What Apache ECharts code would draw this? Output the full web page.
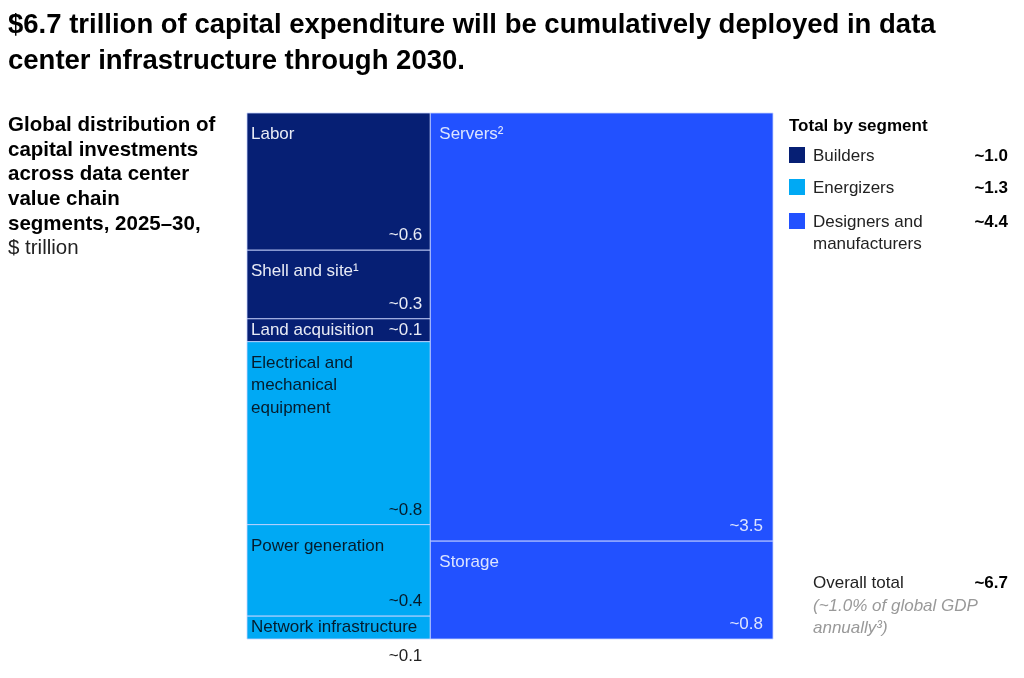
<!DOCTYPE html>
<html>
<head>
<meta charset="utf-8">
<script src="https://cdn.jsdelivr.net/npm/echarts@6/dist/echarts.min.js"></script>
<style>
html,body{margin:0;padding:0;background:#fff;}
#chart{width:1024px;height:678px;}
</style>
</head>
<body>
<div id="chart"></div>
<script>
// ---- data ----
const categories = ['Labor', 'Shell and site\u00b9', 'Land acquisition', 'Electrical and\nmechanical\nequipment', 'Power generation', 'Network infrastructure', 'Servers\u00b2', 'Storage'];
const values = [0.6, 0.3, 0.1, 0.8, 0.4, 0.1, 3.5, 0.8];
const segmentOf = [0, 0, 0, 1, 1, 1, 2, 2];
const columnOf = [0, 0, 0, 0, 0, 0, 1, 1];
const segments = ['Builders', 'Energizers', 'Designers and\nmanufacturers'];
const segmentTotals = [1.0, 1.3, 4.4];
const overallTotal = 6.7;
const titleText = '$6.7 trillion of capital expenditure will be cumulatively deployed in data\ncenter infrastructure through 2030.';

// ---- styles ----
const FONT = 'Liberation Sans, Arial, sans-serif';
const segColors = ['#061f74', '#00a9f4', '#2251ff'];
const segText = ['#e8ebf5', '#051c2c', '#dce4ff'];
const FS = 17;
const padL = [4, 9];
const padR = [8, 10];

// ---- build layout data from arrays ----
const colTotals = [0, 0];
values.forEach((v, i) => { colTotals[columnOf[i]] += v; });
const grand = colTotals[0] + colTotals[1];
const colStart = [0, colTotals[0]];
const cum = [0, 0];
const cells = values.map((v, i) => {
  const c = columnOf[i];
  const y0 = cum[c] / colTotals[c];
  cum[c] += v;
  const y1 = cum[c] / colTotals[c];
  return [colStart[c], colStart[c] + colTotals[c], y0, y1, i];
});

function renderItem(params, api) {
  const x0 = api.value(0), x1 = api.value(1), y0 = api.value(2), y1 = api.value(3), i = api.value(4);
  const p0 = api.coord([x0, y0]);
  const p1 = api.coord([x1, y1]);
  const w = p1[0] - p0[0], h = p1[1] - p0[1];
  const seg = segmentOf[i];
  const col = columnOf[i];
  const name = categories[i];
  const val = '~' + values[i].toFixed(1);
  const fill = segText[seg];
  const children = [{
    type: 'rect',
    shape: { x: p0[0], y: p0[1], width: w, height: h },
    style: { fill: segColors[seg], stroke: 'rgba(200,212,255,0.8)', lineWidth: 1 }
  }];
  const base = { fontSize: FS, fontFamily: FONT, fill: fill };
  if (h > 40) {
    children.push({ type: 'text', style: Object.assign({ text: name, x: p0[0] + padL[col], y: p0[1] + 10, align: 'left', verticalAlign: 'top', lineHeight: 22.5 }, base) });
    children.push({ type: 'text', style: Object.assign({ text: val, x: p1[0] - padR[col], y: p1[1] - 6, align: 'right', verticalAlign: 'bottom' }, base) });
  } else {
    const fits = name.length * 7.5 + 40 < w;
    children.push({ type: 'text', style: Object.assign({ text: name, x: p0[0] + padL[col], y: (p0[1] + p1[1]) / 2, align: 'left', verticalAlign: 'middle' }, base) });
    if (fits) {
      children.push({ type: 'text', style: Object.assign({ text: val, x: p1[0] - padR[col], y: (p0[1] + p1[1]) / 2, align: 'right', verticalAlign: 'middle' }, base) });
    } else {
      children.push({ type: 'text', style: Object.assign({}, base, { text: val, x: p1[0] - padR[col], y: p1[1] + 17, align: 'right', verticalAlign: 'middle', fill: '#222' }) });
    }
  }
  return { type: 'group', children: children };
}

// legend graphics built from arrays
const graphics = [];
graphics.push({
  type: 'text', left: 8, top: 115,
  style: {
    text: '{b|Global distribution of}\n{b|capital investments}\n{b|across data center}\n{b|value chain}\n{b|segments, 2025\u201330,}\n{n|$ trillion}',
    rich: {
      b: { fontSize: 20.5, fontWeight: 'bold', fontFamily: FONT, fill: '#000', lineHeight: 24.6 },
      n: { fontSize: 20.5, fontFamily: FONT, fill: '#222', lineHeight: 24.6 }
    }
  }
});
graphics.push({ type: 'text', x: 789, y: 126, style: { text: 'Total by segment', fontSize: FS, fontWeight: 'bold', fontFamily: FONT, fill: '#000', verticalAlign: 'middle' } });
const rowY = [156, 188, 222];
segments.forEach((s, k) => {
  graphics.push({ type: 'rect', shape: { x: 789, y: rowY[k] - 9, width: 16, height: 16 }, style: { fill: segColors[k] } });
  graphics.push({ type: 'text', x: 813, y: rowY[k] - 11, style: { text: s, fontSize: FS, fontFamily: FONT, fill: '#222', verticalAlign: 'top', lineHeight: 22 } });
  graphics.push({ type: 'text', x: 1008, y: rowY[k], style: { text: '~' + segmentTotals[k].toFixed(1), fontSize: FS, fontWeight: 'bold', fontFamily: FONT, fill: '#000', align: 'right', verticalAlign: 'middle' } });
});
graphics.push({ type: 'text', x: 813, y: 583, style: { text: 'Overall total', fontSize: FS, fontFamily: FONT, fill: '#222', verticalAlign: 'middle' } });
graphics.push({ type: 'text', x: 1008, y: 583, style: { text: '~' + overallTotal.toFixed(1), fontSize: FS, fontWeight: 'bold', fontFamily: FONT, fill: '#000', align: 'right', verticalAlign: 'middle' } });
graphics.push({ type: 'text', x: 813, y: 595, style: { text: '(~1.0% of global GDP\nannually\u00b3)', fontSize: FS, fontStyle: 'italic', fontFamily: FONT, fill: '#999', verticalAlign: 'top', lineHeight: 22 } });

const chart = echarts.init(document.getElementById('chart'));
chart.setOption({
  animation: false,
  title: {
    text: titleText, left: 8, top: 7, padding: 0,
    textStyle: { fontSize: 27.5, fontWeight: 'bold', fontFamily: FONT, color: '#000', lineHeight: 36 }
  },
  grid: { left: 247, right: 251, top: 113, bottom: 39 },
  xAxis: { type: 'value', min: 0, max: grand, show: false },
  yAxis: { type: 'value', min: 0, max: 1, inverse: true, show: false },
  graphic: graphics,
  series: [{
    type: 'custom',
    renderItem: renderItem,
    data: cells,
    encode: { x: [0, 1], y: [2, 3] }
  }]
});
</script>
</body>
</html>
